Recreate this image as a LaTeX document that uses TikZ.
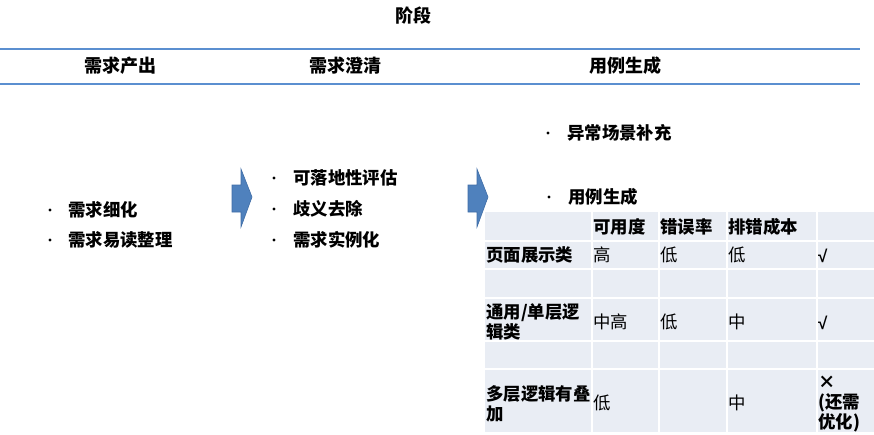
\documentclass[tikz,border=0pt]{standalone}
\usepackage{fontspec}
\setmainfont{Noto Sans CJK SC}
\newfontfamily\checkfont{Liberation Sans}
\definecolor{rule}{HTML}{5B8FD0}
\definecolor{arrowfill}{HTML}{4F81BD}
\definecolor{arrowedge}{HTML}{3F6DA6}
\definecolor{cellfill}{HTML}{E9EDF4}
\begin{document}
\begin{tikzpicture}[x=1pt,y=-1pt,
  txt/.style={font=\fontsize{17.4}{20}\selectfont\bfseries, inner sep=0pt, anchor=west, align=left},
  val/.style={font=\fontsize{17.4}{20}\selectfont, inner sep=0pt, anchor=west, align=left},
  chk/.style={font=\fontsize{17}{20}\selectfont\checkfont\bfseries, inner sep=0pt, anchor=west},
  hd/.style={font=\fontsize{18}{20}\selectfont\bfseries, inner sep=0pt},
  dot/.style={circle, fill=black, inner sep=0pt, minimum size=3.2pt},
  blockarrow/.style={fill=arrowfill, draw=arrowedge, line width=0.6pt}]
\useasboundingbox (0,0) rectangle (874,434);
% title and header band
\node[hd] (title) at (413,16) {阶段};
\draw[rule, line width=1.4pt] (0,49) -- (860,49);
\draw[rule, line width=1.4pt] (0,84) -- (860,84);
\node[hd] (h1) at (120,66) {需求产出};
\node[hd] (h2) at (345,66) {需求澄清};
\node[hd] (h3) at (625,66) {用例生成};
% column 1 bullets
\node[dot] (d11) at (50,210) {};
\node[txt] (b11) at (68,210) {需求细化};
\node[dot] (d12) at (50,240) {};
\node[txt] (b12) at (68,240) {需求易读整理};
% column 2 bullets
\node[dot] (d21) at (274,178) {};
\node[txt] (b21) at (293,178) {可落地性评估};
\node[dot] (d22) at (274,209) {};
\node[txt] (b22) at (293,209) {歧义去除};
\node[dot] (d23) at (274,240) {};
\node[txt] (b23) at (293,240) {需求实例化};
% column 3 bullets
\node[dot] (d31) at (548,133) {};
\node[txt] (b31) at (567,133) {异常场景补充};
\node[dot] (d32) at (549,197) {};
\node[txt] (b32) at (568,197) {用例生成};
% block arrows
\draw[blockarrow] (232,185) -- (241,185) -- (241,169) -- (252,197) -- (241,227) -- (241,212) -- (232,212) -- cycle;
\draw[blockarrow] (468,185) -- (477,185) -- (477,169) -- (488,197) -- (477,227) -- (477,212) -- (468,212) -- cycle;
% table
\fill[cellfill] (485,212) rectangle (874,432);
\foreach \xx in {592,659,727,817} \draw[white, line width=1.8pt] (\xx,212) -- (\xx,432);
\foreach \yy in {241,269,298,341,369} \draw[white, line width=1.8pt] (485,\yy) -- (874,\yy);
% header row
\node[txt] (c12) at (593,227) {可用度};
\node[txt] (c13) at (660,227) {错误率};
\node[txt] (c14) at (728,227) {排错成本};
% row 1
\node[txt] (r1) at (486,255) {页面展示类};
\node[val] (r1a) at (593,255) {高};
\node[val] (r1b) at (660,255) {低};
\node[val] (r1c) at (728,255) {低};
\node[chk] (r1d) at (818,256) {√};
% row 2
\node[txt] (r2) at (486,322) {通用/单层逻\\辑类};
\node[val] (r2a) at (593,322) {中高};
\node[val] (r2b) at (660,322) {低};
\node[val] (r2c) at (728,322) {中};
\node[chk] (r2d) at (818,323) {√};
% row 3
\node[txt] (r3) at (486,404) {多层逻辑有叠\\加};
\node[val] (r3a) at (593,403) {低};
\node[val] (r3c) at (728,403) {中};
\node[txt] (r3d) at (818,404) {×\\(还需\\优化)};
\end{tikzpicture}
\end{document}
